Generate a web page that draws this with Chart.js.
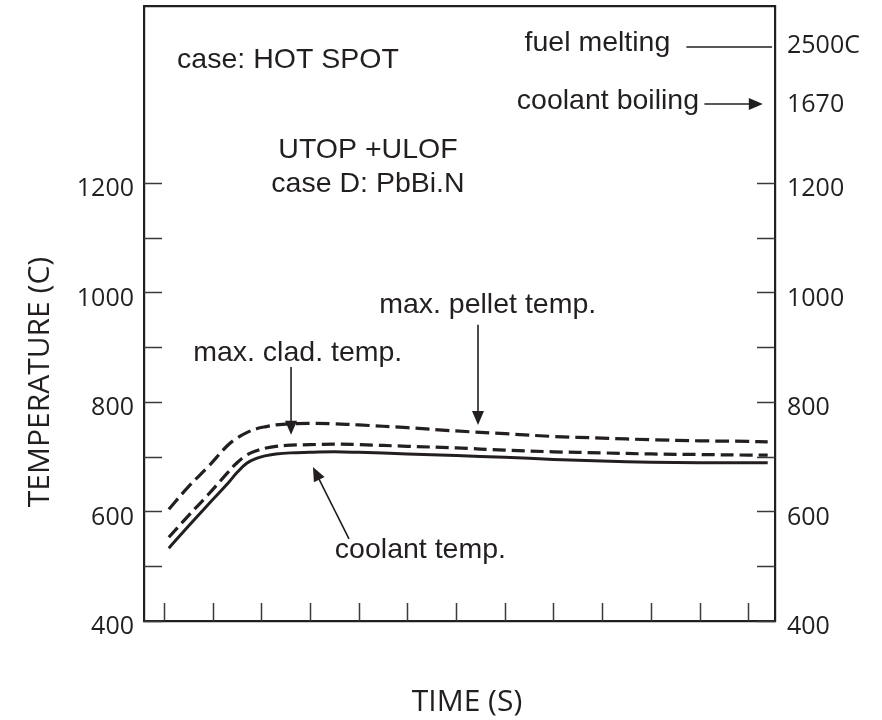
<!DOCTYPE html>
<html><head><meta charset="utf-8">
<script src="https://cdn.jsdelivr.net/npm/chart.js@4/dist/chart.umd.min.js"></script>
<style>html,body{margin:0;padding:0;background:#fff}#wrap{width:882px;height:720px}</style>
</head><body><div id="wrap"><canvas id="c" width="882" height="720"></canvas></div>
<script>
// ---- data ----
const timeTicks = [0,1,2,3,4,5,6,7,8,9,10,11,12];
const timePoints  = [0.1,0.5,0.9,1.3,1.5,1.7,1.9,2.1,2.3,2.6,3.0,3.5,4.0,5,6,7,8,9,10,11,12,12.4];
const pelletTemp  = [604,645,681,720,734,744,751,755,758,760,761,760,758,753,747,742,737,734,731,729,728,727];
const cladTemp    = [553,592,630,670,689,703,711,716,719,721,722,723,722,719,716,712,709,707,705,704,703,703];
const coolantTemp = [533,573,612,650,671,688,697,702,705,707,708,709,708,705,702,699,695,692,690,689,689,689];
const tempTicks = [400,500,600,700,800,900,1000,1100,1200];
const tempTickLabels = ['400','','600','','800','','1000','','1200'];
const seriesNames = ['max. pellet temp.','max. clad. temp.','coolant temp.'];
const refLabels = ['fuel melting','coolant boiling'];
const refValues = ['2500C','1670'];
const caseLabels = ['case: HOT SPOT','UTOP +ULOF','case D: PbBi.N'];
const axisTitles = ['TIME (S)','TEMPERATURE (C)'];

// ---- style / layout ----
const ink = '#231f20';
const tickFont = '25px "Open Sans", "Noto Sans", sans-serif';
const titleFont = '30px "Open Sans", "Noto Sans", sans-serif';
const noteFont = '28.5px "Liberation Sans", Arial, sans-serif';
const X_MIN = -0.41, X_MAX = 12.55, Y_MIN = 400, Y_MAX = 1523;

const textNotes = [
  {text: caseLabels[0], x: 0.27, y: 1425, align: 'left'},
  {text: caseLabels[1], x: 4.19, y: 1260, align: 'center'},
  {text: caseLabels[2], x: 4.19, y: 1197, align: 'center'},
  {text: refLabels[0], x: 10.4, y: 1456, align: 'right'},
  {text: refLabels[1], x: 10.99, y: 1350, align: 'right'},
  {text: seriesNames[0], x: 4.42, y: 976, align: 'left'},
  {text: seriesNames[1], x: 0.6, y: 889, align: 'left'},
  {text: seriesNames[2], x: 3.51, y: 530, align: 'left'}
];
const arrows = [
  {from: [6.45, 941], to: [6.45, 758], head: true},
  {from: [2.61, 864], to: [2.61, 740], head: true},
  {from: [3.80, 550], to: [3.06, 681], head: true},
  {from: [11.1, 1344], to: [12.3, 1344], head: true},
  {from: [10.73, 1448], to: [12.49, 1448], head: false}
];
const rightRefPos = [1450, 1343];

const decor = {
  id: 'decor',
  afterDatasetsDraw(chart) {
    const ctx = chart.ctx, xs = chart.scales.x, ys = chart.scales.y, a = chart.chartArea;
    ctx.save();
    // inward tick marks
    ctx.strokeStyle = '#3a3a3a'; ctx.lineWidth = 1.5;
    ctx.beginPath();
    tempTicks.forEach(v => {
      const py = Math.round(ys.getPixelForValue(v)) + 0.5;
      ctx.moveTo(a.left, py); ctx.lineTo(a.left + 18, py);
      ctx.moveTo(a.right, py); ctx.lineTo(a.right - 18, py);
    });
    timeTicks.forEach(v => {
      const px = Math.round(xs.getPixelForValue(v)) + 0.5;
      ctx.moveTo(px, a.bottom); ctx.lineTo(px, a.bottom - 18);
    });
    ctx.stroke();
    // arrows
    ctx.strokeStyle = ink; ctx.fillStyle = ink; ctx.lineWidth = 1.6;
    arrows.forEach(ar => {
      const x1 = xs.getPixelForValue(ar.from[0]), y1 = ys.getPixelForValue(ar.from[1]);
      const x2 = xs.getPixelForValue(ar.to[0]), y2 = ys.getPixelForValue(ar.to[1]);
      const ang = Math.atan2(y2 - y1, x2 - x1);
      const L = 14, W = 6;
      const ex = ar.head ? x2 - Math.cos(ang) * (L - 1) : x2;
      const ey = ar.head ? y2 - Math.sin(ang) * (L - 1) : y2;
      ctx.beginPath(); ctx.moveTo(x1, y1); ctx.lineTo(ex, ey); ctx.stroke();
      if (ar.head) {
        const bx = x2 - Math.cos(ang) * L, by = y2 - Math.sin(ang) * L;
        ctx.beginPath();
        ctx.moveTo(x2, y2);
        ctx.lineTo(bx + Math.sin(ang) * W, by - Math.cos(ang) * W);
        ctx.lineTo(bx - Math.sin(ang) * W, by + Math.cos(ang) * W);
        ctx.closePath(); ctx.fill();
      }
    });
    // text notes
    ctx.font = noteFont; ctx.textBaseline = 'middle';
    textNotes.forEach(n => {
      ctx.textAlign = n.align;
      ctx.fillText(n.text, xs.getPixelForValue(n.x), ys.getPixelForValue(n.y));
    });
    // right side reference values
    ctx.font = tickFont; ctx.textAlign = 'left';
    refValues.forEach((t, i) => ctx.fillText(t, a.right + 12, ys.getPixelForValue(rightRefPos[i])));
    // axis titles
    ctx.font = titleFont; ctx.textAlign = 'center';
    ctx.fillText(axisTitles[0], 467, 702);
    ctx.translate(40, 382); ctx.rotate(-Math.PI / 2);
    ctx.fillText(axisTitles[1], 0, 0);
    ctx.restore();
  }
};

const mk = (vals) => timePoints.map((t, i) => ({x: t, y: vals[i]}));
const frameBorder = {display: true, color: ink, width: 2.2};
const noPad = s => { s.paddingTop = 0; s.paddingBottom = 0; s.paddingLeft = 0; s.paddingRight = 0; };
const yTicksCfg = {
  font: {family: '"Open Sans", "Noto Sans", sans-serif', size: 25},
  color: ink,
  labelOffset: 6,
  callback: (v) => { const i = tempTicks.indexOf(v); return i >= 0 ? tempTickLabels[i] : ''; }
};
const lineBase = {borderColor: ink, pointRadius: 0, tension: 0.4, fill: false, borderCapStyle: 'butt'};

new Chart(document.getElementById('c'), {
  type: 'line',
  data: {
    datasets: [
      Object.assign({label: seriesNames[0], data: mk(pelletTemp), borderWidth: 3.2, borderDash: [14, 6]}, lineBase),
      Object.assign({label: seriesNames[1], data: mk(cladTemp), borderWidth: 3.2, borderDash: [13, 6]}, lineBase),
      Object.assign({label: seriesNames[2], data: mk(coolantTemp), borderWidth: 3}, lineBase)
    ]
  },
  options: {
    responsive: false, animation: false, devicePixelRatio: 1,
    layout: {padding: 0},
    plugins: {legend: {display: false}, tooltip: {enabled: false}},
    scales: {
      x: {type: 'linear', position: 'bottom', min: X_MIN, max: X_MAX,
          grid: {display: false, drawTicks: false}, border: frameBorder, ticks: {display: false},
          afterBuildTicks: s => { s.ticks = timeTicks.map(v => ({value: v})); },
          afterFit: s => { s.height = 99; noPad(s); }},
      xTop: {type: 'linear', position: 'top', min: X_MIN, max: X_MAX,
          grid: {display: false, drawTicks: false}, border: frameBorder, ticks: {display: false},
          afterFit: s => { s.height = 6; noPad(s); }},
      y: {type: 'linear', position: 'left', min: Y_MIN, max: Y_MAX,
          grid: {display: false, drawTicks: false}, border: frameBorder,
          ticks: Object.assign({padding: 10}, yTicksCfg),
          afterBuildTicks: s => { s.ticks = tempTicks.map(v => ({value: v})); },
          afterFit: s => { s.width = 144; noPad(s); }},
      y2: {type: 'linear', position: 'right', min: Y_MIN, max: Y_MAX,
          grid: {display: false, drawTicks: false}, border: frameBorder,
          ticks: Object.assign({padding: 12}, yTicksCfg),
          afterBuildTicks: s => { s.ticks = tempTicks.map(v => ({value: v})); },
          afterFit: s => { s.width = 107; noPad(s); }}
    }
  },
  plugins: [decor]
});
</script>
</body></html>
